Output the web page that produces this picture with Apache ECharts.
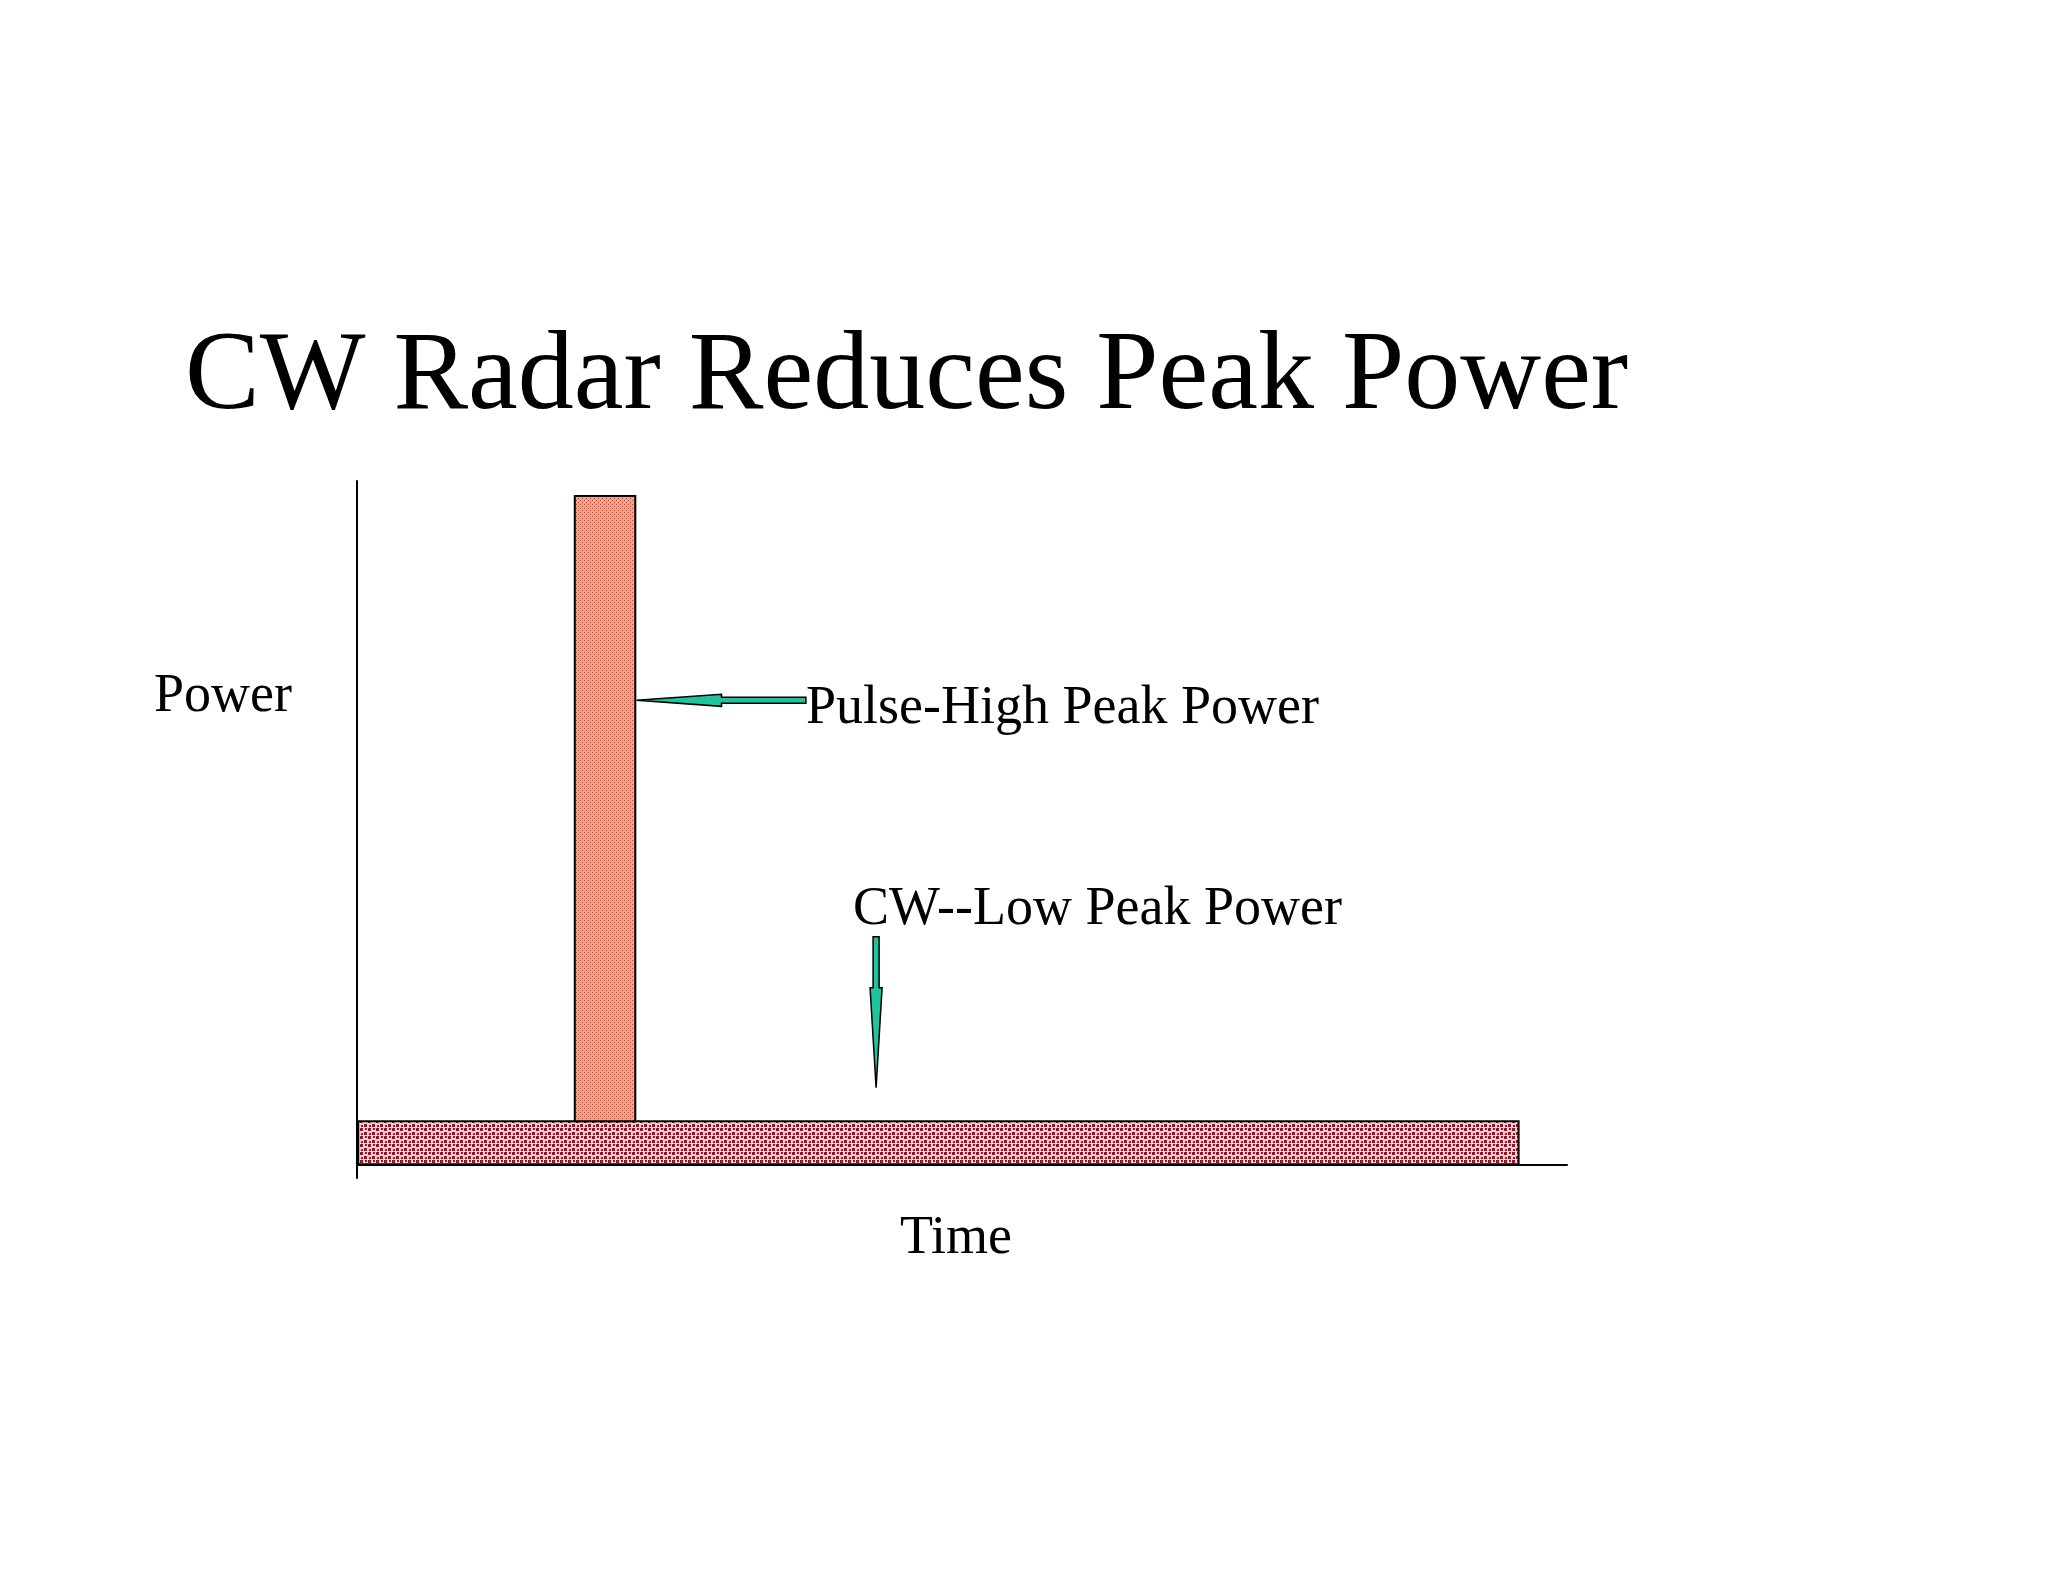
<!DOCTYPE html>
<html>
<head>
<meta charset="UTF-8">
<script src="https://cdn.jsdelivr.net/npm/echarts@6/dist/echarts.min.js"></script>
<style>body{margin:0;background:#fff}</style>
</head>
<body>
<div id="main" style="width:2048px;height:1582px"></div>
<script>
// bars: [start time, end time, bottom power, top power]
var pulseBar = [18.0, 23.0, 6.3, 97.8];
var cwBar = [0.1, 96.0, 0, 6.3];
// arrows: [tailX, tailY, headX, headY]
var pulseArrow = [37.1, 67.9, 23.1, 67.9];
var cwArrow = [42.9, 33.3, 42.9, 11.2];

function pattern(bg, fg, size, cells) {
    var c = document.createElement('canvas');
    c.width = c.height = size;
    var g = c.getContext('2d');
    g.fillStyle = bg; g.fillRect(0, 0, size, size);
    g.fillStyle = fg;
    cells.forEach(function (p) { g.fillRect(p[0], p[1], p[2], p[3]); });
    return { image: c, repeat: 'repeat' };
}
var pulseFill = pattern('#f4a088', '#d4503c', 4, [[0,0,1,1],[2,2,1,1]]);
var cwFill = pattern('#f6d0d0', '#a0102c', 8, [[0,0,3,3],[4,4,3,3],[5,0,2,2],[1,5,2,2]]);

var chart = echarts.init(document.getElementById('main'));
var font = '"Liberation Serif", "Times New Roman", serif';

function barItem(params, api) {
    var d = params.dataIndex === 0 ? cwBar : pulseBar;
    var a = api.coord([d[0], d[3]]), b = api.coord([d[1], d[2]]);
    return {
        type: 'rect',
        shape: { x: a[0], y: a[1], width: b[0] - a[0], height: b[1] - a[1] },
        style: { fill: params.dataIndex === 0 ? cwFill : pulseFill, stroke: '#000', lineWidth: 2 }
    };
}
function arrowItem(params, api) {
    var d = params.dataIndex === 0 ? pulseArrow : cwArrow;
    var t = api.coord([d[0], d[1]]), h = api.coord([d[2], d[3]]);
    var dx = h[0] - t[0], dy = h[1] - t[1], L = Math.sqrt(dx * dx + dy * dy);
    var ux = dx / L, uy = dy / L, nx = -uy, ny = ux;
    var headLen = params.dataIndex === 0 ? 85 : 100, hw = 6, sw = 3;
    var bx = h[0] - ux * headLen, by = h[1] - uy * headLen;
    var pts = [
        [t[0] + nx * sw, t[1] + ny * sw], [bx + nx * sw, by + ny * sw], [bx + nx * hw, by + ny * hw],
        [h[0], h[1]],
        [bx - nx * hw, by - ny * hw], [bx - nx * sw, by - ny * sw], [t[0] - nx * sw, t[1] - ny * sw]
    ];
    return { type: 'polygon', shape: { points: pts }, style: { fill: '#1fc49c', stroke: '#000', lineWidth: 1.5 } };
}

chart.setOption({
    animation: false,
    title: {
        text: 'CW Radar Reduces Peak Power', left: 180, top: 318,
        textStyle: { fontFamily: font, fontSize: 112, fontWeight: 'normal', color: '#000' }
    },
    grid: { left: 357, top: 481, width: 1210, height: 697 },
    xAxis: {
        type: 'value', min: 0, max: 100,
        axisLine: { lineStyle: { color: '#000', width: 2 } },
        axisTick: { show: false }, axisLabel: { show: false }, splitLine: { show: false }
    },
    yAxis: {
        type: 'value', min: -2, max: 100,
        axisLine: { onZero: false, lineStyle: { color: '#000', width: 2 } },
        axisTick: { show: false }, axisLabel: { show: false }, splitLine: { show: false }
    },
    graphic: [
        { type: 'text', left: 154, top: 670, style: { text: 'Power', font: '54px ' + font, fill: '#000' } },
        { type: 'text', left: 806, top: 682, style: { text: 'Pulse-High Peak Power', font: '54px ' + font, fill: '#000' } },
        { type: 'text', left: 853, top: 883, style: { text: 'CW--Low Peak Power', font: '54px ' + font, fill: '#000' } },
        { type: 'text', left: 900, top: 1212, style: { text: 'Time', font: '54px ' + font, fill: '#000' } }
    ],
    series: [
        { type: 'custom', renderItem: barItem, data: [0, 1], silent: true },
        { type: 'custom', renderItem: arrowItem, data: [0, 1], silent: true, z: 5 }
    ]
});
</script>
</body>
</html>
